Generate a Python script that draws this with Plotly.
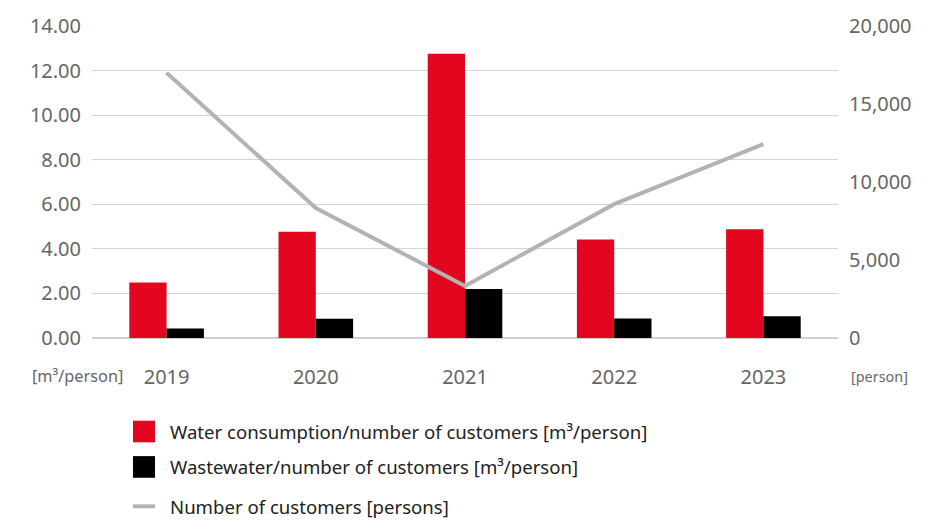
import plotly.graph_objects as go

years = ["2019", "2020", "2021", "2022", "2023"]
water_per_customer = [2.49, 4.77, 12.75, 4.42, 4.88]
wastewater_per_customer = [0.43, 0.86, 2.20, 0.88, 0.98]
customers = [17000, 8330, 3340, 8580, 12430]

left_ticks = [0, 2, 4, 6, 8, 10, 12, 14]
left_tick_text = ["0.00", "2.00", "4.00", "6.00", "8.00", "10.00", "12.00", "14.00"]
right_ticks = [0, 5000, 10000, 15000, 20000]
right_tick_text = ["0", "5,000", "10,000", "15,000", "20,000"]

RED = "#e2071f"
BLACK = "#000000"
GREY_LINE = "#b3b3b3"
TICK_GREY = "#666666"
FONT = "Noto Sans"
TICK_SIZE = 20

W, H = 941, 523
L, R, T, B = 92, 103, 21, 185
PW, PH = W - L - R, H - T - B


def px(x):
    return (x - L) / PW


def py(y):
    return (H - B - y) / PH


fig = go.Figure()
fig.add_trace(go.Bar(x=years, y=water_per_customer, marker=dict(color=RED, line_width=0),
                     name="Water consumption/number of customers [m³/person]", showlegend=False))
fig.add_trace(go.Bar(x=years, y=wastewater_per_customer, marker=dict(color=BLACK, line_width=0),
                     name="Wastewater/number of customers [m³/person]", showlegend=False))
fig.add_trace(go.Scatter(x=years, y=customers, yaxis="y2", mode="lines",
                         line=dict(color=GREY_LINE, width=4),
                         name="Number of customers [persons]", showlegend=False))

fig.update_layout(
    width=W, height=H,
    margin=dict(l=L, r=R, t=T, b=B, pad=0),
    paper_bgcolor="white", plot_bgcolor="white",
    barmode="group", bargap=0.5, bargroupgap=0,
    font=dict(family=FONT, color=TICK_GREY, size=TICK_SIZE),
    xaxis=dict(showgrid=False, showline=False, zeroline=False, ticks="",
               ticklabelstandoff=25, tickfont=dict(size=TICK_SIZE, color=TICK_GREY)),
    yaxis=dict(range=[0, 14], tickvals=left_ticks, ticktext=left_tick_text,
               showgrid=True, gridcolor="#d4d4d4", gridwidth=1,
               zeroline=True, zerolinecolor="#cfcfcf", zerolinewidth=1.5,
               showline=False, ticks="", ticklabelstandoff=10,
               tickfont=dict(size=TICK_SIZE, color=TICK_GREY)),
    yaxis2=dict(range=[0, 20000], tickvals=right_ticks, ticktext=right_tick_text,
                overlaying="y", side="right", showgrid=False, zeroline=False,
                showline=False, ticks="", ticklabelstandoff=10,
                tickfont=dict(size=TICK_SIZE, color=TICK_GREY)),
)

# Unit labels beneath the two value axes
fig.add_annotation(text="[m³/person]", xref="paper", yref="paper", x=px(125), y=py(377),
                   xanchor="right", yanchor="middle", showarrow=False,
                   font=dict(family=FONT, size=16.3, color=TICK_GREY))
fig.add_annotation(text="[person]", xref="paper", yref="paper", x=px(849), y=py(377),
                   xanchor="left", yanchor="middle", showarrow=False,
                   font=dict(family=FONT, size=14.4, color=TICK_GREY))

# Legend drawn below the plot
legend_rows = [
    ("square", RED, "Water consumption/number of customers [m³/person]", 433),
    ("square", BLACK, "Wastewater/number of customers [m³/person]", 469),
    ("line", GREY_LINE, "Number of customers [persons]", 509),
]
for kind, color, label, cy in legend_rows:
    half = 11 if kind == "square" else 2
    fig.add_shape(type="rect", xref="paper", yref="paper",
                  x0=px(133), x1=px(155), y0=py(cy + half), y1=py(cy - half),
                  fillcolor=color, line_width=0)
    fig.add_annotation(text=label, xref="paper", yref="paper", x=px(168), y=py(cy),
                       xanchor="left", yanchor="middle", showarrow=False,
                       font=dict(family=FONT, size=18.6, color="#222222"))

fig.write_html("out.html")
